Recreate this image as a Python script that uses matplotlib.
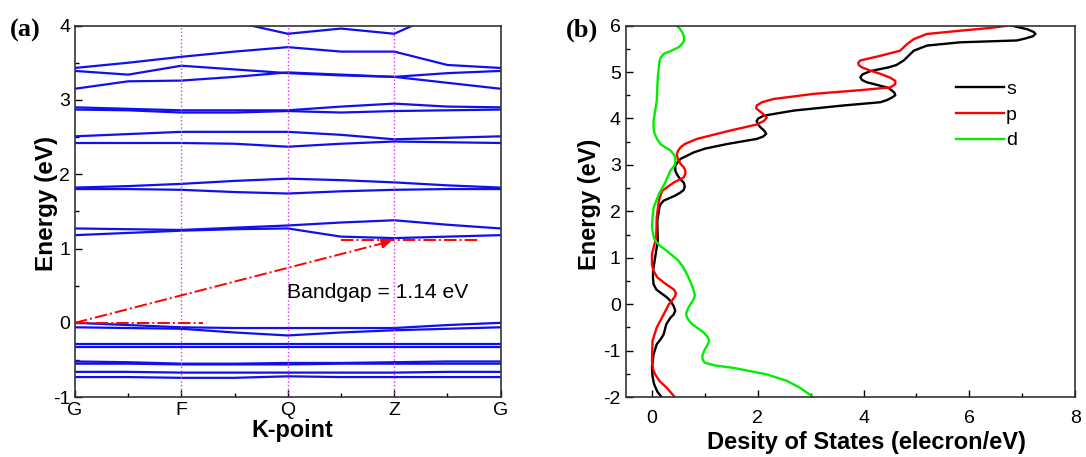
import numpy as np
import matplotlib.pyplot as plt
from matplotlib.ticker import MultipleLocator

plt.rcParams['font.family'] = ['Liberation Sans', 'DejaVu Sans']
plt.rcParams['axes.unicode_minus'] = False

# band structure: energies at k = G, .., F, .., Q, .., Z, .., G (steps of 0.5)
kpath = [0, 0.5, 1, 1.5, 2, 2.5, 3, 3.5, 4]
klabels = ['G', 'F', 'Q', 'Z', 'G']
bands = [
    [4.60, 4.45, 4.30, 4.05, 3.89, 3.96, 3.89, 4.21, 4.50],
    [3.43, 3.50, 3.58, 3.65, 3.71, 3.65, 3.65, 3.47, 3.43],
    [3.39, 3.34, 3.46, 3.41, 3.36, 3.33, 3.31, 3.36, 3.39],
    [3.15, 3.25, 3.26, 3.31, 3.37, 3.34, 3.31, 3.23, 3.15],
    [2.90, 2.88, 2.86, 2.86, 2.86, 2.91, 2.95, 2.91, 2.90],
    [2.87, 2.86, 2.83, 2.83, 2.85, 2.83, 2.85, 2.86, 2.87],
    [2.51, 2.54, 2.57, 2.57, 2.57, 2.53, 2.47, 2.49, 2.51],
    [2.42, 2.42, 2.42, 2.41, 2.37, 2.41, 2.44, 2.43, 2.42],
    [1.82, 1.84, 1.87, 1.91, 1.94, 1.92, 1.89, 1.85, 1.82],
    [1.80, 1.80, 1.79, 1.76, 1.74, 1.77, 1.79, 1.80, 1.80],
    [1.27, 1.26, 1.25, 1.28, 1.31, 1.35, 1.38, 1.32, 1.27],
    [1.18, 1.21, 1.24, 1.26, 1.27, 1.16, 1.14, 1.16, 1.18],
    [0.00, -0.03, -0.06, -0.07, -0.07, -0.07, -0.07, -0.03, 0.00],
    [-0.06, -0.07, -0.08, -0.13, -0.17, -0.13, -0.10, -0.08, -0.06],
    [-0.29, -0.29, -0.29, -0.29, -0.29, -0.29, -0.29, -0.29, -0.29],
    [-0.32, -0.32, -0.32, -0.32, -0.32, -0.32, -0.32, -0.32, -0.32],
    [-0.52, -0.53, -0.55, -0.55, -0.54, -0.54, -0.53, -0.52, -0.52],
    [-0.55, -0.55, -0.56, -0.56, -0.56, -0.55, -0.55, -0.55, -0.55],
    [-0.66, -0.66, -0.67, -0.67, -0.67, -0.67, -0.67, -0.66, -0.66],
    [-0.73, -0.73, -0.74, -0.74, -0.72, -0.73, -0.73, -0.73, -0.73],
]
gap_text = 'Bandgap = 1.14 eV'
vbm = (0, 0.0)
cbm = (3, 1.11)

# partial DOS (energy, dos)
s_E = [6.00, 5.92, 5.86, 5.82, 5.77, 5.72, 5.68, 5.64, 5.57, 5.46, 5.35, 5.25, 5.15, 5.10, 5.02, 4.95,
       4.89, 4.83, 4.78, 4.66, 4.56, 4.50, 4.46, 4.40, 4.35, 4.28, 4.17, 4.06, 4.00, 3.95, 3.88, 3.81,
       3.74, 3.67, 3.61, 3.56, 3.45, 3.35, 3.27, 3.13, 3.05, 2.98, 2.88, 2.80, 2.70, 2.62, 2.54, 2.46,
       2.40, 2.34, 2.23, 2.15, 2.08, 1.80, 1.37, 1.01, 0.72, 0.55, 0.43, 0.32, 0.25, 0.15, 0.07, -0.04,
       -0.14, -0.22, -0.29, -0.43, -0.65, -0.76, -0.86, -1.08, -1.36, -1.55, -1.72, -1.88, -2.01]
s_dos = [6.80, 7.10, 7.22, 7.25, 7.20, 7.05, 6.90, 5.83, 5.20, 4.95, 4.85, 4.76, 4.62, 4.47, 4.13, 3.98,
         3.94, 3.97, 4.06, 4.47, 4.58, 4.60, 4.55, 4.45, 4.32, 3.62, 2.68, 2.11, 2.01, 1.98, 2.00, 2.05,
         2.12, 2.16, 2.10, 1.98, 1.42, 1.00, 0.79, 0.54, 0.48, 0.44, 0.44, 0.47, 0.53, 0.60, 0.62, 0.60,
         0.53, 0.44, 0.22, 0.16, 0.14, 0.10, 0.11, 0.06, 0.02, 0.02, 0.03, 0.08, 0.16, 0.28, 0.35, 0.41,
         0.44, 0.41, 0.35, 0.27, 0.22, 0.16, 0.09, 0.03, 0.00, 0.01, 0.04, 0.10, 0.19]
p_E = [6.00, 5.95, 5.89, 5.82, 5.71, 5.65, 5.60, 5.46, 5.35, 5.25, 5.20, 5.15, 5.10, 5.03, 4.96, 4.88,
       4.81, 4.74, 4.67, 4.61, 4.53, 4.42, 4.35, 4.28, 4.22, 4.17, 4.10, 4.02, 3.95, 3.87, 3.74, 3.56,
       3.45, 3.38, 3.30, 3.23, 3.12, 3.02, 2.95, 2.88, 2.80, 2.73, 2.62, 2.44, 2.23, 1.87, 1.44, 1.08,
       0.85, 0.72, 0.58, 0.47, 0.32, 0.25, 0.18, 0.08, 0.00, -0.22, -0.50, -0.79, -1.22, -1.40, -1.51,
       -1.65, -1.80, -2.01]
p_dos = [6.74, 6.40, 5.83, 5.20, 4.95, 4.88, 4.82, 4.69, 4.32, 3.94, 3.90, 3.91, 3.97, 4.13, 4.32, 4.50,
         4.60, 4.60, 4.51, 3.94, 3.06, 2.30, 2.08, 1.98, 1.97, 2.02, 2.10, 2.17, 2.12, 1.98, 1.48, 0.85,
         0.62, 0.54, 0.49, 0.47, 0.49, 0.54, 0.60, 0.63, 0.63, 0.60, 0.41, 0.19, 0.13, 0.09, 0.08, 0.00,
         0.00, 0.03, 0.10, 0.22, 0.41, 0.45, 0.44, 0.38, 0.32, 0.22, 0.09, 0.01, 0.00, 0.02, 0.06,
         0.14, 0.28, 0.44]
d_E = [6.00, 5.93, 5.86, 5.78, 5.69, 5.62, 5.53, 5.45, 5.39, 5.30, 5.21, 4.89, 4.38, 3.95, 3.80, 3.67,
       3.55, 3.45, 3.38, 3.31, 3.23, 3.16, 3.02, 2.95, 2.88, 2.62, 2.37, 2.08, 1.85, 1.65, 1.51, 1.42,
       1.33, 1.25, 1.15, 0.94, 0.80, 0.65, 0.45, 0.29, 0.20, 0.11, 0.02, -0.07, -0.18, -0.25, -0.34,
       -0.43, -0.61, -0.72, -0.79, -0.88, -0.97, -1.11, -1.20, -1.26, -1.32, -1.37, -1.51, -1.65, -1.80,
       -1.92, -2.01]
d_dos = [0.47, 0.53, 0.57, 0.60, 0.61, 0.58, 0.50, 0.35, 0.22, 0.16, 0.14, 0.11, 0.09, 0.03, 0.03, 0.05,
         0.10, 0.16, 0.25, 0.35, 0.41, 0.44, 0.44, 0.40, 0.35, 0.25, 0.13, 0.03, 0.01, 0.00, 0.02, 0.04,
         0.09, 0.16, 0.28, 0.50, 0.59, 0.66, 0.74, 0.79, 0.81, 0.79, 0.74, 0.69, 0.65, 0.65, 0.69,
         0.76, 0.98, 1.06, 1.08, 1.05, 1.00, 0.95, 0.96, 1.00, 1.20, 1.54, 2.17, 2.55, 2.80,
         2.95, 3.06]

fig = plt.figure(figsize=(10.86, 4.57), dpi=100)
ax1 = fig.add_axes([0.069, 0.131, 0.392, 0.813])
ax2 = fig.add_axes([0.576, 0.131, 0.414, 0.813])

# (a) band structure
for b in bands:
    ax1.plot(kpath, b, color='#1010ee', lw=1.6)
for k in [1, 2, 3]:
    ax1.axvline(k, color='#dd33ff', ls=':', lw=1.0)
ax1.plot([0, 1.2], [0, 0], color='red', lw=1.4, ls='-.')
ax1.plot([2.5, 3.8], [cbm[1], cbm[1]], color='red', lw=1.4, ls='-.')
ax1.plot([vbm[0], cbm[0] - 0.1], [vbm[1], cbm[1] - 0.037], color='red', lw=1.4, ls='-.')
ax1.annotate('', xy=cbm, xytext=(cbm[0] - 0.12, cbm[1] - 0.045),
             arrowprops=dict(arrowstyle='-|>', color='red', lw=1.4, mutation_scale=14))
ax1.text(1.99, 0.41, gap_text, fontsize=15.2, va='center')
ax1.set_xlim(0, 4)
ax1.set_ylim(-1, 4)
ax1.set_xticks(range(5))
ax1.set_xticklabels(klabels)
ax1.xaxis.set_minor_locator(MultipleLocator(0.5))
ax1.yaxis.set_minor_locator(MultipleLocator(0.5))
ax1.set_xlabel('K-point', fontsize=16.8, fontweight='bold', labelpad=0, x=0.51)
ax1.set_ylabel('Energy (eV)', fontsize=17.5, fontweight='bold', labelpad=-4, y=0.52)

# (b) partial DOS
ax2.plot(s_dos, s_E, color='black', lw=1.7, label='s')
ax2.plot(p_dos, p_E, color='red', lw=1.7, label='p')
ax2.plot(d_dos, d_E, color='#00ee00', lw=1.7, label='d')
ax2.set_xlim(-0.5, 8)
ax2.set_ylim(-2, 6)
ax2.xaxis.set_major_locator(MultipleLocator(2))
ax2.xaxis.set_minor_locator(MultipleLocator(1))
ax2.yaxis.set_major_locator(MultipleLocator(1))
ax2.yaxis.set_minor_locator(MultipleLocator(0.5))
ax2.set_xlabel('Desity of States (elecron/eV)', fontsize=17, fontweight='bold', labelpad=3, x=0.535)
ax2.set_ylabel('Energy (eV)', fontsize=17, fontweight='bold', labelpad=2, y=0.52)
ax2.legend(loc='upper left', bbox_to_anchor=(0.695, 0.9), frameon=False, fontsize=14,
           handlelength=2.5, handletextpad=0.1, labelspacing=0.42)

for ax in (ax1, ax2):
    ax.tick_params(which='both', direction='in', labelsize=14, width=1.0)
    ax.tick_params(which='major', length=5)
    ax.tick_params(which='minor', length=3)
    for sp in ax.spines.values():
        sp.set_color('#333333')
        sp.set_linewidth(1.2)
    for ln in ax.get_lines():
        ln.set_solid_joinstyle('round')
ax2.tick_params(axis='x', pad=9)

fig.text(0.009, 0.933, '(a)', fontsize=19, fontweight='bold', family='Liberation Serif', va='center')
fig.text(0.521, 0.933, '(b)', fontsize=19, fontweight='bold', family='Liberation Serif', va='center')

plt.savefig('out.png', dpi=100)
